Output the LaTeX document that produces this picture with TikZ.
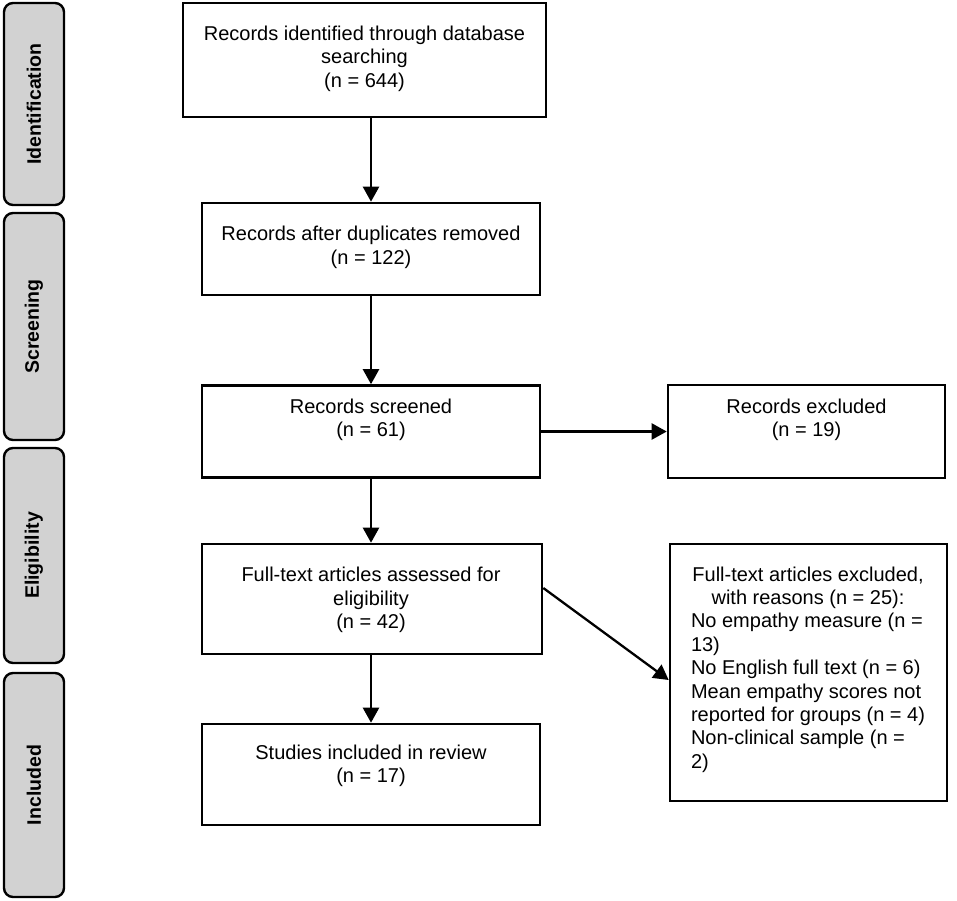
\documentclass[tikz,border=0pt]{standalone}
\usepackage{fontspec}
\setmainfont{Liberation Sans}
\usetikzlibrary{arrows.meta}
\begin{document}
\begin{tikzpicture}[x=1pt,y=-1pt,
  box/.style={draw=black, line width=2.6pt, rectangle, inner sep=0pt},
  side/.style={draw=black, line width=2.4pt, fill=sidegray, rounded corners=9pt, inner sep=0pt, minimum width=60pt},
  sidetext/.style={font=\fontsize{19.5}{23}\selectfont\bfseries, rotate=90},
  txt/.style={font=\fontsize{20}{23.4}\selectfont, align=center, inner sep=0pt},
  arr/.style={line width=2.3pt, -{Triangle[width=16pt,length=15pt]}}
]
\definecolor{sidegray}{HTML}{D2D2D2}
\useasboundingbox (0,0) rectangle (957,900);
% side bars
\node[side, minimum height=202pt] (sid) at (34,104) {};
\node[sidetext] (sidt) at (sid.center) {Identification};
\node[side, minimum height=227pt] (sscr) at (34,326.5) {};
\node[sidetext] (sscrt) at (sscr.center) {Screening};
\node[side, minimum height=215pt] (self) at (34,555.5) {};
\node[sidetext] (selit) at (self.center) {Eligibility};
\node[side, minimum height=224pt] (sinc) at (34,785) {};
\node[sidetext] (sinct) at (sinc.center) {Included};
% boxes
\node[box, minimum width=363pt, minimum height=114pt] (b1) at (364.5,60) {};
\node[box, minimum width=338pt, minimum height=92pt] (b2) at (371,249) {};
\node[box, minimum width=338pt, minimum height=92pt] (b3) at (371,431.5) {};
\node[box, minimum width=277pt, minimum height=93pt] (bx) at (806.5,431.5) {};
\node[box, minimum width=340pt, minimum height=110pt] (b4) at (372,599) {};
\node[box, minimum width=338pt, minimum height=101pt] (b5) at (371,774.5) {};
\node[box, minimum width=277pt, minimum height=257pt] (b6) at (808.5,672.5) {};
% texts
\node[txt] (t1) at (364.5,58.5) {Records identified through database\\searching\\(n = 644)};
\node[txt] (t2) at (371,247.5) {Records after duplicates removed\\(n = 122)};
\node[txt] (t3) at (371,420) {Records screened\\(n = 61)};
\node[txt] (tx) at (806.5,420) {Records excluded\\(n = 19)};
\node[txt] (t4) at (371,600) {Full-text articles assessed for\\eligibility\\(n = 42)};
\node[txt] (t5) at (371,766) {Studies included in review\\(n = 17)};
\node[txt] (t6) at (808,670) {\begin{tabular}{@{}l@{}}
\multicolumn{1}{@{}c@{}}{Full-text articles excluded,}\\
\multicolumn{1}{@{}c@{}}{with reasons (n = 25):}\\
No empathy measure (n =\\
13)\\
No English full text (n = 6)\\
Mean empathy scores not\\
reported for groups (n = 4)\\
Non-clinical sample (n =\\
2)
\end{tabular}};
% arrows
\draw[arr] (b2.north |- b1.south) -- (b2.north);
\draw[arr] (b2.south) -- (b3.north);
\draw[arr] (b3.east) -- (bx.west);
\draw[arr] (b3.south) -- (b4.north -| b3.south);
\draw[arr] (b4.south -| b5.north) -- (b5.north);
\draw[arr] ([yshift=11pt]b4.east) -- ([yshift=-7.5pt]b6.west);
\end{tikzpicture}
\end{document}
